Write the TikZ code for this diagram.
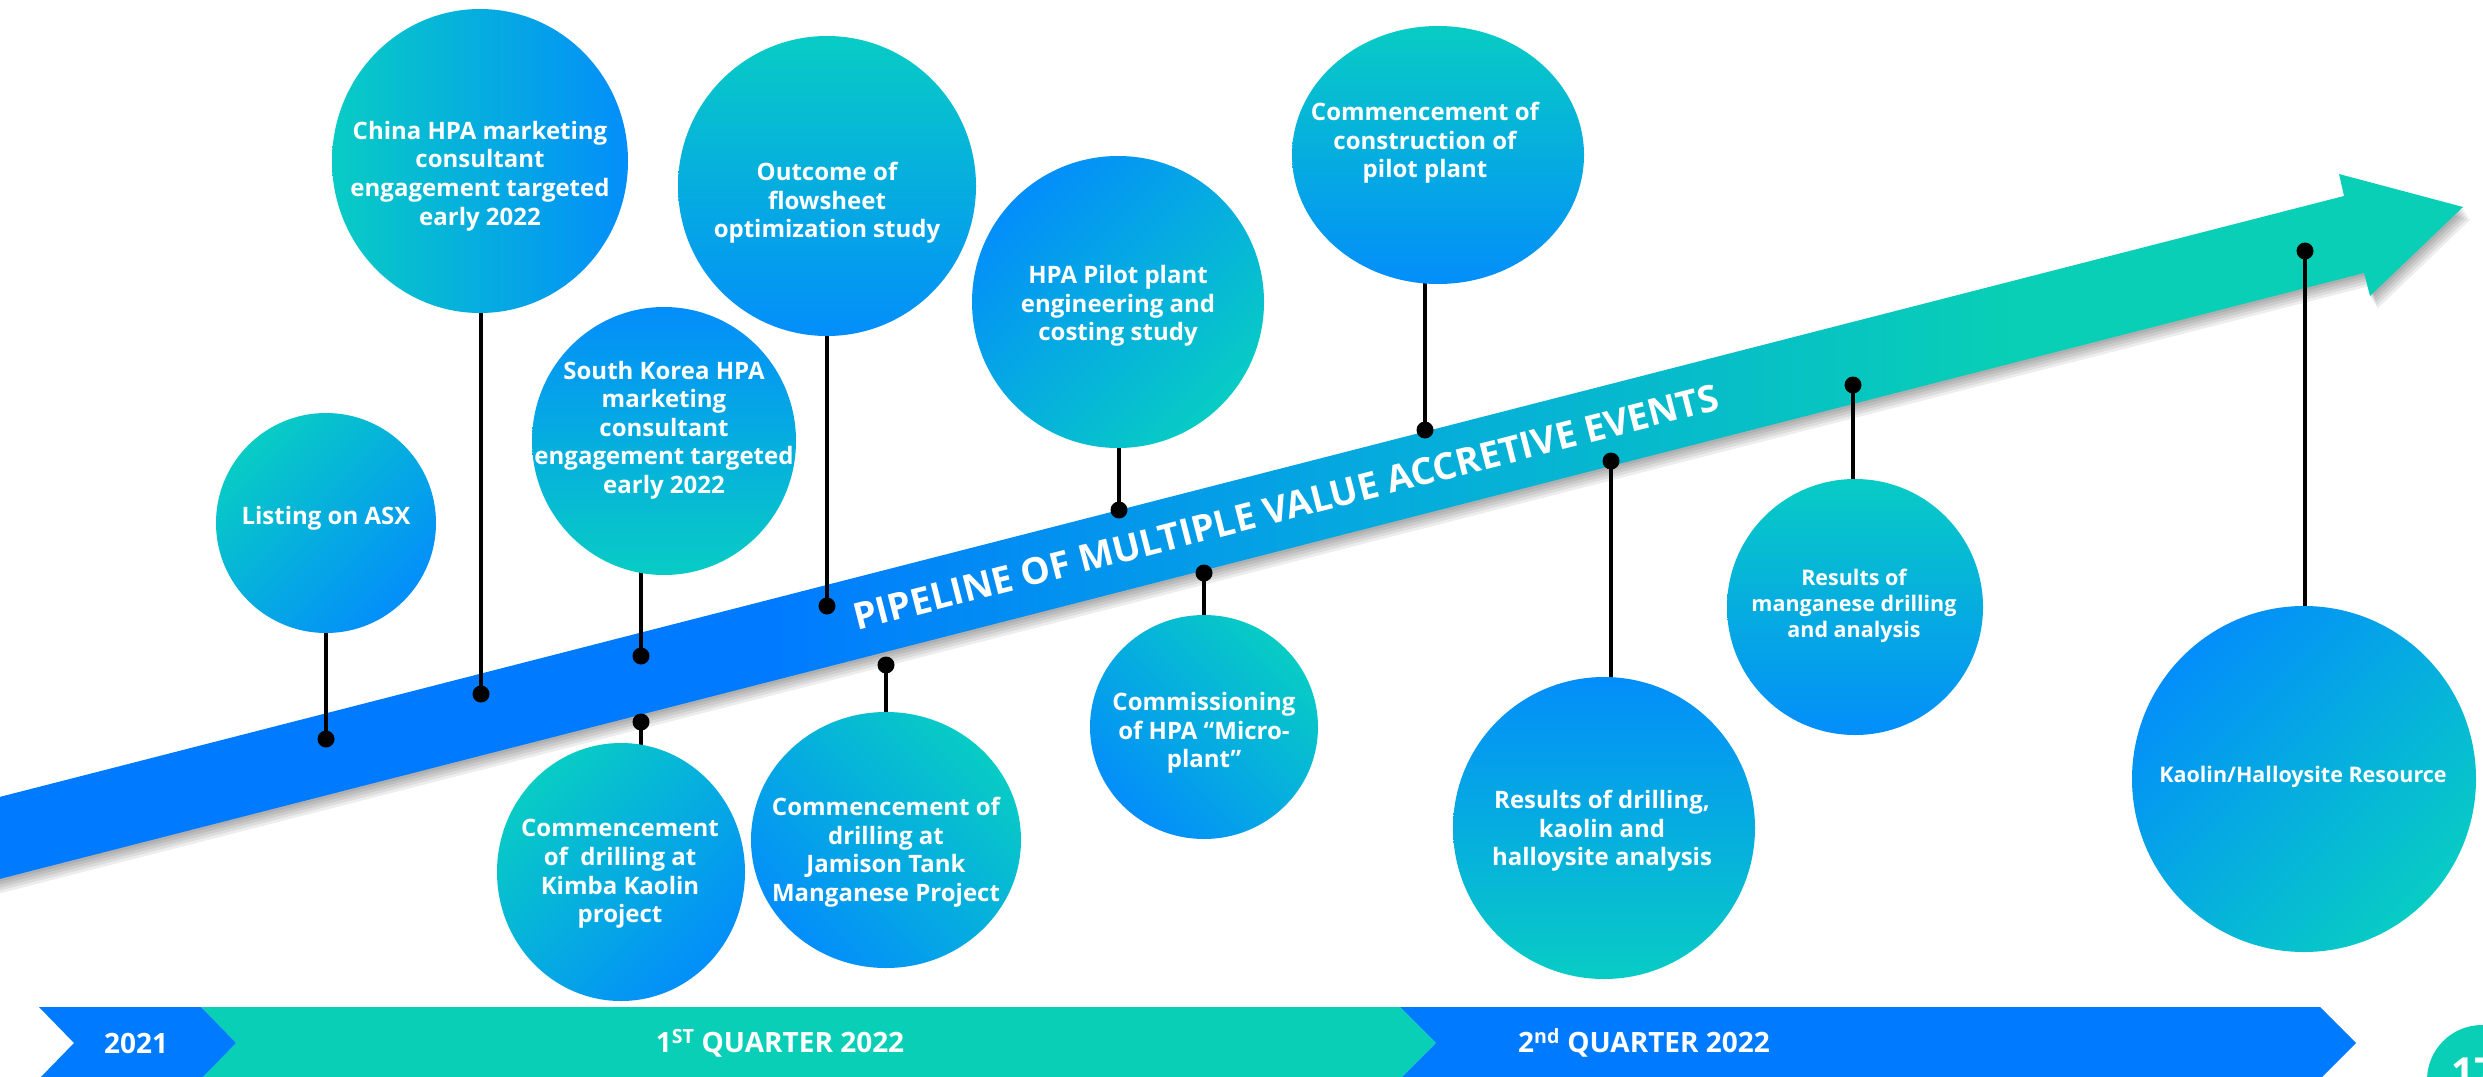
\documentclass[tikz,border=0pt]{standalone}
\usepackage{fontspec}
\setmainfont{Open Sans}
\usetikzlibrary{shapes.geometric}
\definecolor{bandB}{RGB}{0,123,255}
\definecolor{bandT}{RGB}{8,207,181}
\definecolor{cirB}{RGB}{3,142,250}
\definecolor{cirT}{RGB}{8,204,196}
\definecolor{arrMid}{RGB}{5,170,222}
\pgfdeclarelayer{arrowlayer}
\pgfdeclarelayer{linelayer}
\pgfsetlayers{arrowlayer,linelayer,main}
\pgfdeclarehorizontalshading{arrowsh}{100bp}{color(0bp)=(bandB); color(25bp)=(bandB); color(41bp)=(bandB); color(53bp)=(arrMid); color(66bp)=(bandT); color(100bp)=(bandT)}
\begin{document}
\begin{tikzpicture}[x=1pt,y=-1pt,
  evt/.style={ellipse, draw=none, inner sep=0pt, top color=cirT, bottom color=cirB},
  evtxt/.style={text=white, align=center, inner sep=0pt, font=\bfseries\fontsize{24}{28.6}\selectfont},
  smalltxt/.style={evtxt, font=\bfseries\fontsize{21.5}{25.8}\selectfont},
  dot/.style={circle, fill=black, inner sep=0pt, minimum size=17pt},
  stem/.style={line width=4pt, black},
  bandtxt/.style={text=white, inner sep=0pt, font=\bfseries\fontsize{28}{32}\selectfont},
  band/.style={draw=none}]
\useasboundingbox (0,0) rectangle (2483,1076);

\begin{pgfonlayer}{arrowlayer}
\fill[white] (0,0) rectangle (2483,1076);
% shadow
\foreach \k in {1,...,5}{
  \fill[black, opacity=0.07, shift={(1.5*\k,2.5*\k)}]
    (-20,802) -- (2344,196) -- (2339,174) -- (2463,207) -- (2370,296) -- (2364,273) -- (-20,884) -- cycle;
}
% main arrow
\shade[shading=arrowsh]
  (-20,802) -- (2344,196) -- (2339,174) -- (2463,207) -- (2370,296) -- (2364,273) -- (-20,884) -- cycle;
% bottom band
\fill[bandT] (201,1007) -- (236,1043) -- (201,1079) -- (1400,1079) -- (1436,1043) -- (1400,1007) -- cycle;
\fill[bandB] (39,1007) -- (74,1043) -- (39,1079) -- (201,1079) -- (236,1043) -- (201,1007) -- cycle;
\fill[bandB] (1400,1007) -- (1436,1043) -- (1400,1079) -- (2320,1079) -- (2356,1043) -- (2320,1007) -- cycle;
\fill[bandT] (2482,1080) circle[radius=55pt];
\end{pgfonlayer}

\node[text=white, rotate=14.38, inner sep=0pt, font=\bfseries\fontsize{37}{40}\selectfont] (ptxt) at (1286,507) {PIPELINE OF MULTIPLE VALUE ACCRETIVE EVENTS};

\node[bandtxt] (y2021) at (136,1043) {2021};
\node[bandtxt] (q1) at (780,1043) {1\textsuperscript{ST} QUARTER 2022};
\node[bandtxt] (q2) at (1644,1043) {2\textsuperscript{nd} QUARTER 2022};
\node[text=white, anchor=base west, inner sep=0pt, font=\bfseries\fontsize{40}{44}\selectfont] (pg) at (2451,1086) {17};

% event circles
\node[evt, shading angle=45,   minimum width=220pt, minimum height=220pt] (c1)  at (326,523)  {};
\node[evt, shading angle=90,   minimum width=296pt, minimum height=304pt] (c2)  at (480,161)  {};
\node[evt, shading angle=180,  minimum width=264pt, minimum height=268pt] (c3)  at (664,441)  {};
\node[evt, shading angle=0,    minimum width=298pt, minimum height=300pt] (c4)  at (827,186)  {};
\node[evt, shading angle=45,   minimum width=248pt, minimum height=258pt] (c5)  at (621,872)  {};
\node[evt, shading angle=-45,  minimum width=270pt, minimum height=256pt] (c6)  at (886,840)  {};
\node[evt, shading angle=-135, minimum width=292pt, minimum height=292pt] (c7)  at (1118,302) {};
\node[evt, shading angle=-45,  minimum width=228pt, minimum height=224pt] (c8)  at (1204,727) {};
\node[evt, shading angle=0,    minimum width=292pt, minimum height=258pt] (c9)  at (1438,155) {};
\node[evt, shading angle=180,  minimum width=302pt, minimum height=302pt] (c10) at (1604,828) {};
\node[evt, shading angle=0,    minimum width=256pt, minimum height=256pt] (c11) at (1855,607) {};
\node[evt, shading angle=-135, minimum width=344pt, minimum height=346pt] (c12) at (2304,779) {};

% texts
\node[evtxt] (t1) at (326,518) {Listing on ASX};
\node[evtxt] (t2) at (480,176) {China HPA marketing\\consultant\\engagement targeted\\early 2022};
\node[evtxt] (t3) at (664,430) {South Korea HPA\\marketing\\consultant\\engagement targeted\\early 2022};
\node[evtxt] (t4) at (827,203) {Outcome of\\flowsheet\\optimization study};
\node[evtxt] (t5) at (620,874) {Commencement\\of\ \ drilling at\\Kimba Kaolin\\project};
\node[evtxt] (t6) at (886,852) {Commencement of\\drilling at\\Jamison Tank\\Manganese Project};
\node[evtxt] (t7) at (1118,306) {HPA Pilot plant\\engineering and\\costing study};
\node[evtxt] (t8) at (1204,733) {Commissioning\\of HPA “Micro-\\plant”};
\node[evtxt] (t9) at (1425,143) {Commencement of\\construction of\\pilot plant};
\node[evtxt] (t10) at (1602,831) {Results of drilling,\\kaolin and\\halloysite analysis};
\node[smalltxt] (t11) at (1854,606) {Results of\\manganese drilling\\and analysis};
\node[smalltxt] (t12) at (2303,777) {Kaolin/Halloysite Resource};

% dots on the arrow
\node[dot] (d1)  at (326,739)  {};
\node[dot] (d2)  at (481,694)  {};
\node[dot] (d3)  at (641,656)  {};
\node[dot] (d4)  at (827,606)  {};
\node[dot] (d5)  at (641,722)  {};
\node[dot] (d6)  at (886,665)  {};
\node[dot] (d7)  at (1119,510) {};
\node[dot] (d8)  at (1204,573) {};
\node[dot] (d9)  at (1425,430) {};
\node[dot] (d10) at (1611,461) {};
\node[dot] (d11) at (1853,385) {};
\node[dot] (d12) at (2305,251) {};

\begin{pgfonlayer}{linelayer}
\draw[stem] (d1.center)  -- (d1 |- c1.center);
\draw[stem] (d2.center)  -- (d2 |- c2.center);
\draw[stem] (d3.center)  -- (d3 |- c3.center);
\draw[stem] (d4.center)  -- (d4 |- c4.center);
\draw[stem] (d5.center)  -- (d5 |- c5.center);
\draw[stem] (d6.center)  -- (d6 |- c6.center);
\draw[stem] (d7.center)  -- (d7 |- c7.center);
\draw[stem] (d8.center)  -- (d8 |- c8.center);
\draw[stem] (d9.center)  -- (d9 |- c9.center);
\draw[stem] (d10.center) -- (d10 |- c10.center);
\draw[stem] (d11.center) -- (d11 |- c11.center);
\draw[stem] (d12.center) -- (d12 |- c12.center);
\end{pgfonlayer}
\end{tikzpicture}
\end{document}
